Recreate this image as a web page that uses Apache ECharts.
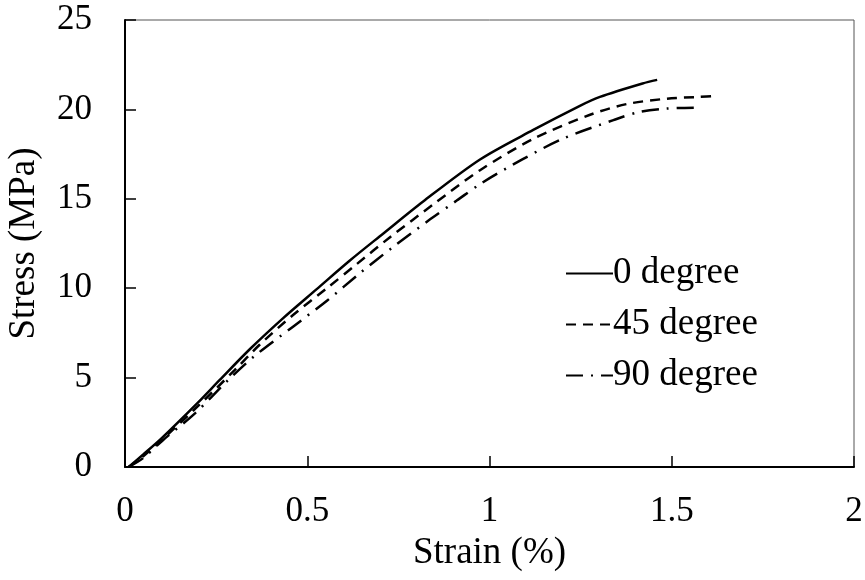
<!DOCTYPE html>
<html>
<head>
<meta charset="utf-8">
<script src="https://cdn.jsdelivr.net/npm/echarts@6/dist/echarts.min.js"></script>
<style>html,body{margin:0;padding:0;background:#fff;}#c{width:865px;height:580px;}</style>
</head>
<body>
<div id="c"></div>
<script>
const seriesNames = ['0 degree', '45 degree', '90 degree'];
const strain0 = [0.01,0.05,0.10,0.20,0.26,0.343,0.434,0.526,0.617,0.708,0.818,0.974,1.12,1.248,1.303,1.42,1.46];
const stress0 = [0,0.7,1.6,3.6,4.87,6.6,8.33,9.95,11.55,13.05,14.85,17.2,18.85,20.2,20.7,21.45,21.65];
const strain45 = [0.01,0.05,0.10,0.20,0.30,0.37,0.461,0.554,0.636,0.727,0.85,0.974,1.12,1.276,1.377,1.487,1.577,1.62];
const stress45 = [0,0.6,1.5,3.4,5.4,6.85,8.5,10.0,11.35,12.85,14.75,16.6,18.35,19.7,20.3,20.6,20.7,20.75];
const strain90 = [0.01,0.05,0.104,0.192,0.28,0.352,0.461,0.554,0.645,0.735,0.837,0.91,0.98,1.09,1.2,1.34,1.41,1.487,1.577];
const stress90 = [0,0.5,1.5,3.0,4.8,6.15,7.85,9.3,10.85,12.3,13.85,14.9,15.9,17.2,18.35,19.4,19.85,20.05,20.1];

const zip = (a, b) => a.map((v, i) => [v, b[i]]);
const font = 'Liberation Serif, Times New Roman, serif';
const chart = echarts.init(document.getElementById('c'));
chart.setOption({
  animation: false,
  backgroundColor: '#fff',
  grid: {left: 125, right: 11, top: 20, bottom: 113, containLabel: false, outerBoundsMode: 'none',
         show: true, borderColor: '#555', borderWidth: 1, backgroundColor: 'transparent'},
  legend: {
    orient: 'vertical', left: 560, top: 250, itemWidth: 47, itemHeight: 14, itemGap: 14,
    itemStyle: {color: 'transparent', opacity: 0, borderWidth: 0},
    textStyle: {fontFamily: font, fontSize: 37, color: '#000', padding: [0, 0, 0, -5], lineHeight: 37},
    data: seriesNames
  },
  xAxis: {
    type: 'value', min: 0, max: 2, interval: 0.5,
    name: 'Strain (%)', nameLocation: 'middle', nameGap: 68,
    nameTextStyle: {fontFamily: font, fontSize: 37, color: '#000'},
    axisLine: {show: true, lineStyle: {color: '#000', width: 2}},
    axisTick: {show: true, inside: true, length: 11, lineStyle: {color: '#000', width: 1.5}},
    axisLabel: {fontFamily: font, fontSize: 35, color: '#000', margin: 27, showMaxLabel: true},
    splitLine: {show: false}
  },
  yAxis: {
    type: 'value', min: 0, max: 25, interval: 5,
    name: 'Stress (MPa)', nameLocation: 'middle', nameGap: 82,
    nameTextStyle: {fontFamily: font, fontSize: 37, color: '#000'},
    axisLine: {show: true, lineStyle: {color: '#000', width: 2}},
    axisTick: {show: true, inside: true, length: 11, lineStyle: {color: '#000', width: 1.5}},
    axisLabel: {fontFamily: font, fontSize: 35, color: '#000', margin: 33},
    splitLine: {show: false}
  },
  series: [
    {name: seriesNames[0], type: 'line', data: zip(strain0, stress0), symbol: 'none', smooth: 0.3,
     lineStyle: {color: '#000', width: 2.5, type: 'solid'}, itemStyle: {color: '#000'}},
    {name: seriesNames[1], type: 'line', data: zip(strain45, stress45), symbol: 'none', smooth: 0.3,
     lineStyle: {color: '#000', width: 2.5, type: [10, 7]}, itemStyle: {color: '#000'}},
    {name: seriesNames[2], type: 'line', data: zip(strain90, stress90), symbol: 'none', smooth: 0.3,
     lineStyle: {color: '#000', width: 2.5, type: [17, 8, 2, 8]}, itemStyle: {color: '#000'}}
  ]
});
</script>
</body>
</html>
